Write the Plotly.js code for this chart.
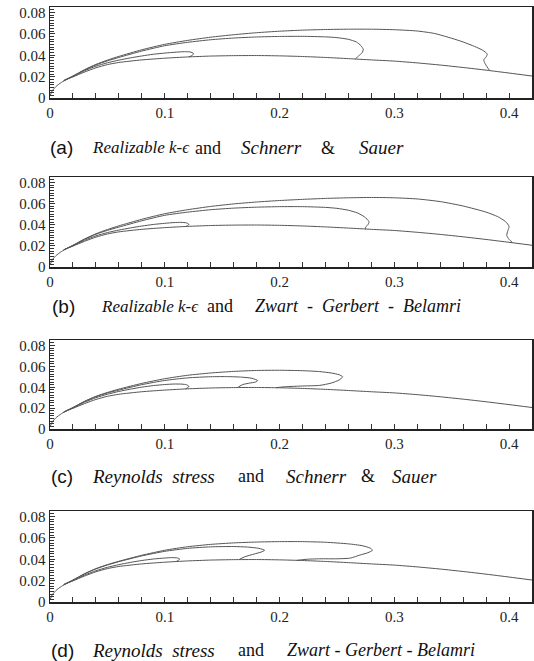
<!DOCTYPE html>
<html>
<head>
<meta charset="utf-8">
<script src="https://cdn.plot.ly/plotly-3.0.1.min.js"></script>
<style>html,body{margin:0;padding:0;background:#fff;}#chart{width:534px;height:661px;}</style>
</head>
<body>
<div id="chart"></div>
<script>
// Hydrofoil suction side (shared by all panels)
const profileX = [0, 0.002, 0.005, 0.01, 0.015, 0.02, 0.03, 0.04, 0.05, 0.06, 0.08, 0.1, 0.12, 0.14, 0.16, 0.18, 0.2, 0.22, 0.24, 0.26, 0.28, 0.3, 0.32, 0.34, 0.36, 0.38, 0.4, 0.42];
const profileY = [0.002, 0.0068, 0.0106, 0.0147, 0.0176, 0.0198, 0.0243, 0.0283, 0.0313, 0.0333, 0.0357, 0.0373, 0.0385, 0.0393, 0.0397, 0.0398, 0.0395, 0.0389, 0.0380, 0.0369, 0.0357, 0.0346, 0.0329, 0.0309, 0.0286, 0.0261, 0.0234, 0.0206];

// (a) Realizable k-e + Schnerr & Sauer
const aC1X = [0.012, 0.02, 0.03, 0.04, 0.05, 0.06, 0.07, 0.08, 0.09, 0.1, 0.11, 0.117, 0.122, 0.125, 0.124, 0.121];
const aC1Y = [0.0163, 0.0202, 0.0255, 0.0298, 0.0330, 0.0355, 0.0376, 0.0394, 0.0410, 0.0421, 0.0430, 0.0434, 0.0432, 0.0418, 0.0400, 0.0385];
const aC2X = [0.012, 0.02, 0.03, 0.04, 0.05, 0.06, 0.08, 0.1, 0.12, 0.14, 0.16, 0.18, 0.2, 0.22, 0.24, 0.25, 0.26, 0.267, 0.271, 0.273, 0.272, 0.269, 0.266];
const aC2Y = [0.0163, 0.0205, 0.0262, 0.0310, 0.0348, 0.0380, 0.0440, 0.0490, 0.0522, 0.0546, 0.0562, 0.0572, 0.0577, 0.0578, 0.0573, 0.0566, 0.0550, 0.0525, 0.0490, 0.0455, 0.0425, 0.0395, 0.0365];
const aC3X = [0.012, 0.02, 0.03, 0.04, 0.05, 0.06, 0.08, 0.1, 0.12, 0.14, 0.16, 0.18, 0.2, 0.22, 0.24, 0.26, 0.28, 0.3, 0.32, 0.335, 0.35, 0.36, 0.37, 0.377, 0.381, 0.380, 0.378, 0.379, 0.381, 0.383];
const aC3Y = [0.0163, 0.0206, 0.0265, 0.0315, 0.0355, 0.0390, 0.0452, 0.0503, 0.0540, 0.0570, 0.0593, 0.0612, 0.0626, 0.0636, 0.0642, 0.0645, 0.0645, 0.0640, 0.0628, 0.0605, 0.0560, 0.0525, 0.0483, 0.0448, 0.0412, 0.0385, 0.0358, 0.0325, 0.0290, 0.0258];

// (b) Realizable k-e + Zwart-Gerbert-Belamri
const bC1X = [0.012, 0.02, 0.03, 0.04, 0.05, 0.06, 0.07, 0.08, 0.09, 0.1, 0.108, 0.114, 0.119, 0.121, 0.120, 0.118];
const bC1Y = [0.0163, 0.0202, 0.0253, 0.0295, 0.0326, 0.0350, 0.0370, 0.0388, 0.0403, 0.0414, 0.0421, 0.0423, 0.0418, 0.0405, 0.0392, 0.0383];
const bC2X = [0.012, 0.02, 0.03, 0.04, 0.05, 0.06, 0.08, 0.1, 0.12, 0.14, 0.16, 0.18, 0.2, 0.22, 0.24, 0.25, 0.26, 0.268, 0.274, 0.278, 0.277, 0.275, 0.275];
const bC2Y = [0.0163, 0.0205, 0.0262, 0.0310, 0.0347, 0.0378, 0.0438, 0.0490, 0.0520, 0.0543, 0.0558, 0.0567, 0.0572, 0.0572, 0.0565, 0.0556, 0.0538, 0.0512, 0.0475, 0.0430, 0.0400, 0.0378, 0.0358];
const bC3X = [0.012, 0.02, 0.03, 0.04, 0.05, 0.06, 0.08, 0.1, 0.12, 0.14, 0.16, 0.18, 0.2, 0.22, 0.24, 0.26, 0.28, 0.3, 0.32, 0.34, 0.36, 0.38, 0.39, 0.397, 0.4, 0.399, 0.398, 0.4, 0.403];
const bC3Y = [0.0163, 0.0206, 0.0265, 0.0315, 0.0355, 0.0390, 0.0452, 0.0505, 0.0543, 0.0574, 0.0598, 0.0616, 0.0630, 0.0641, 0.0650, 0.0656, 0.0659, 0.0656, 0.0645, 0.0620, 0.0578, 0.0520, 0.0478, 0.0430, 0.0385, 0.0345, 0.0300, 0.0262, 0.0232];

// (c) Reynolds stress + Schnerr & Sauer
const cC1X = [0.012, 0.02, 0.03, 0.04, 0.05, 0.06, 0.07, 0.08, 0.09, 0.1, 0.108, 0.115, 0.119, 0.121, 0.12, 0.118];
const cC1Y = [0.0163, 0.0202, 0.0256, 0.0300, 0.0333, 0.0360, 0.0382, 0.0401, 0.0416, 0.0426, 0.0431, 0.0430, 0.0424, 0.0410, 0.0395, 0.0385];
const cC2X = [0.012, 0.02, 0.03, 0.04, 0.05, 0.06, 0.08, 0.1, 0.12, 0.14, 0.155, 0.167, 0.176, 0.181, 0.179, 0.174, 0.168, 0.164];
const cC2Y = [0.0163, 0.0205, 0.0263, 0.0310, 0.0345, 0.0373, 0.0425, 0.0465, 0.0490, 0.0501, 0.0502, 0.0497, 0.0486, 0.0464, 0.0450, 0.0440, 0.0426, 0.0402];
const cC3X = [0.012, 0.02, 0.03, 0.04, 0.05, 0.06, 0.08, 0.1, 0.12, 0.14, 0.16, 0.18, 0.2, 0.22, 0.235, 0.245, 0.252, 0.255, 0.252, 0.245, 0.235, 0.22, 0.205, 0.197];
const cC3Y = [0.0163, 0.0206, 0.0265, 0.0313, 0.0350, 0.0382, 0.0437, 0.0482, 0.0515, 0.0537, 0.0552, 0.0561, 0.0563, 0.0559, 0.0550, 0.0537, 0.0520, 0.0500, 0.0470, 0.0440, 0.0418, 0.0412, 0.0405, 0.0396];

// (d) Reynolds stress + Zwart-Gerbert-Belamri
const dC1X = [0.012, 0.02, 0.03, 0.04, 0.05, 0.06, 0.07, 0.08, 0.09, 0.1, 0.106, 0.111, 0.113, 0.112, 0.11];
const dC1Y = [0.0163, 0.0201, 0.0252, 0.0293, 0.0325, 0.0350, 0.0371, 0.0389, 0.0403, 0.0412, 0.0416, 0.0413, 0.0403, 0.0392, 0.0380];
const dC2X = [0.012, 0.02, 0.03, 0.04, 0.05, 0.06, 0.08, 0.1, 0.12, 0.14, 0.16, 0.172, 0.182, 0.187, 0.184, 0.178, 0.17, 0.165];
const dC2Y = [0.0163, 0.0205, 0.0263, 0.0310, 0.0347, 0.0378, 0.0432, 0.0475, 0.0503, 0.0517, 0.0520, 0.0515, 0.0503, 0.0485, 0.0468, 0.0450, 0.0425, 0.0400];
const dC3X = [0.012, 0.02, 0.03, 0.04, 0.05, 0.06, 0.08, 0.1, 0.12, 0.14, 0.16, 0.18, 0.2, 0.22, 0.24, 0.26, 0.272, 0.279, 0.281, 0.277, 0.27, 0.262, 0.25, 0.235, 0.223, 0.215];
const dC3Y = [0.0163, 0.0206, 0.0265, 0.0313, 0.0350, 0.0382, 0.0438, 0.0485, 0.0518, 0.0540, 0.0554, 0.0562, 0.0566, 0.0566, 0.0560, 0.0545, 0.0528, 0.0505, 0.0485, 0.0462, 0.0440, 0.0412, 0.0405, 0.0405, 0.0400, 0.0390];

// Caption pieces: [text, left pixel, style, size]
const captionParts = [
  [['(a)', 48, 'sans', 19], ['Realizable k-ϵ', 90, 'it', 17], ['and', 193, 'rm', 18], ['Schnerr', 239, 'it', 19], ['&amp;', 319, 'rm', 18], ['Sauer', 357, 'it', 19]],
  [['(b)', 50, 'sans', 19], ['Realizable k-ϵ', 99, 'it', 17], ['and', 205, 'rm', 18], ['Zwart&nbsp;&nbsp;-&nbsp;&nbsp;Gerbert&nbsp;&nbsp;-&nbsp;&nbsp;Belamri', 253, 'it', 18]],
  [['(c)', 49, 'sans', 19], ['Reynolds&nbsp;&nbsp;stress', 90, 'it', 19], ['and', 236, 'rm', 18], ['Schnerr', 284, 'it', 19], ['&amp;', 359, 'rm', 18], ['Sauer', 390, 'it', 19]],
  [['(d)', 49, 'sans', 19], ['Reynolds&nbsp;&nbsp;stress', 90, 'it', 19], ['and', 236, 'rm', 18], ['Zwart - Gerbert - Belamri', 285, 'it', 18]]
];

const panels = [
  [[aC1X, aC1Y], [aC2X, aC2Y], [aC3X, aC3Y]],
  [[bC1X, bC1Y], [bC2X, bC2Y], [bC3X, bC3Y]],
  [[cC1X, cC1Y], [cC2X, cC2Y], [cC3X, cC3Y]],
  [[dC1X, dC1Y], [dC2X, dC2Y], [dC3X, dC3Y]]
];

const W = 534, H = 661, ML = 50, MR = 2;
const boxes = [[7, 98], [177, 267], [340, 429], [511, 602]];
const capY = [148, 306, 476, 650];

const lineColor = '#555';
const data = [];
const layout = {
  width: W, height: H,
  margin: {l: ML, r: MR, t: 0, b: 0},
  paper_bgcolor: '#fff', plot_bgcolor: '#fff',
  showlegend: false,
  annotations: []
};

panels.forEach((contours, i) => {
  const sfx = i === 0 ? '' : String(i + 1);
  data.push({x: profileX, y: profileY, xaxis: 'x' + sfx, yaxis: 'y' + sfx, mode: 'lines',
    line: {color: lineColor, width: 1, shape: 'spline', smoothing: 0.6}, hoverinfo: 'skip'});
  contours.forEach(c => {
    data.push({x: c[0], y: c[1], xaxis: 'x' + sfx, yaxis: 'y' + sfx, mode: 'lines',
      line: {color: lineColor, width: 1, shape: 'spline', smoothing: 0.6}, hoverinfo: 'skip'});
  });
  const [top, bot] = boxes[i];
  const tickfont = {family: 'Liberation Serif', size: 15, color: '#222'};
  layout['xaxis' + sfx] = {
    domain: [0, 1], anchor: 'y' + sfx, range: [0, 0.42], tick0: 0, dtick: 0.1,
    ticks: 'inside', ticklen: 5, tickwidth: 1, tickcolor: '#333',
    showline: true, linecolor: '#222', linewidth: 1.5, mirror: true,
    showgrid: false, zeroline: false, tickfont: tickfont, fixedrange: true,
    minor: {dtick: 0.02, tick0: 0, ticks: 'inside', ticklen: 5, tickwidth: 1, tickcolor: '#333', showgrid: false}
  };
  layout['yaxis' + sfx] = {
    domain: [1 - bot / H, 1 - top / H], anchor: 'x' + sfx, range: [0, 0.0853], tick0: 0, dtick: 0.02,
    ticks: 'inside', ticklen: 5, tickwidth: 1, tickcolor: '#333',
    showline: true, linecolor: '#222', linewidth: 1.5, mirror: true,
    showgrid: false, zeroline: false, tickfont: tickfont, fixedrange: true,
    minor: {dtick: 0.0025, tick0: 0, ticks: 'inside', ticklen: 4, tickwidth: 1, tickcolor: '#333', showgrid: false}
  };
  captionParts[i].forEach(([txt, px, kind, size]) => {
    const family = kind === 'sans' ? 'Liberation Sans' : 'Liberation Serif';
    const text = kind === 'it' ? '<i>' + txt + '</i>' : txt;
    layout.annotations.push({
      xref: 'paper', yref: 'paper', x: (px - ML) / (W - ML - MR), y: 1 - capY[i] / H,
      xanchor: 'left', yanchor: 'middle', showarrow: false, align: 'left',
      text: text, font: {family: family, size: size, color: '#111'}
    });
  });
});

Plotly.newPlot('chart', data, layout, {displayModeBar: false, staticPlot: true});
</script>
</body>
</html>
